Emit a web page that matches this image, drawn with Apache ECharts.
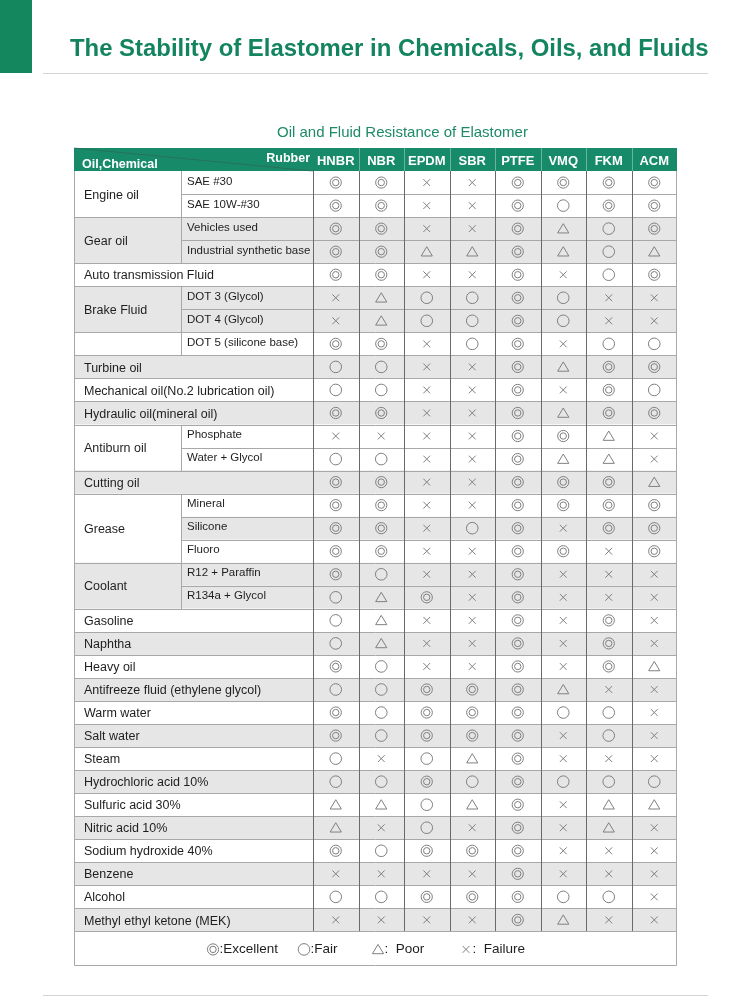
<!DOCTYPE html>
<html>
<head>
<meta charset="utf-8">
<script src="https://cdn.jsdelivr.net/npm/echarts@6/dist/echarts.min.js"></script>
<style>
  html, body { margin: 0; padding: 0; background: #fff; }
  #chart { width: 750px; height: 1001px; }
</style>
</head>
<body>
<div id="chart"></div>
<script>
// table data
const rubbers = ["HNBR", "NBR", "EPDM", "SBR", "PTFE", "VMQ", "FKM", "ACM"];

const groupNames = [
  "Engine oil", "Gear oil", "Auto transmission Fluid", "Brake Fluid", "",
  "Turbine oil", "Mechanical oil(No.2 lubrication oil)", "Hydraulic oil(mineral oil)",
  "Antiburn oil", "Cutting oil", "Grease", "Coolant", "Gasoline", "Naphtha", "Heavy oil",
  "Antifreeze fluid (ethylene glycol)", "Warm water", "Salt water", "Steam",
  "Hydrochloric acid 10%", "Sulfuric acid 30%", "Nitric acid 10%", "Sodium hydroxide 40%",
  "Benzene", "Alcohol", "Methyl ethyl ketone (MEK)"
];
const groupSpans = [2, 2, 1, 2, 1, 1, 1, 1, 2, 1, 3, 2, 1, 1, 1, 1, 1, 1, 1, 1, 1, 1, 1, 1, 1, 1];

const subLabels = [
  "SAE #30", "SAE 10W-#30", "Vehicles used", "Industrial synthetic base", "",
  "DOT 3 (Glycol)", "DOT 4 (Glycol)", "DOT 5 (silicone base)", "", "", "",
  "Phosphate", "Water + Glycol", "", "Mineral", "Silicone", "Fluoro",
  "R12 + Paraffin", "R134a + Glycol",
  "", "", "", "", "", "", "", "", "", "", "", "", "", ""
];

// E = Excellent, F = Fair, P = Poor, X = Failure (HNBR..ACM)
const ratings = [
  "EEXXEEEE", "EEXXEFEE", "EEXXEPFE", "EEPPEPFP", "EEXXEXFE",
  "XPFFEFXX", "XPFFEFXX", "EEXFEXFF", "FFXXEPEE", "FFXXEXEF",
  "EEXXEPEE", "XXXXEEPX", "FFXXEPPX", "EEXXEEEP", "EEXXEEEE",
  "EEXFEXEE", "EEXXEEXE", "EFXXEXXX", "FPEXEXXX", "FPXXEXEX",
  "FPXXEXEX", "EFXXEXEP", "FFEEEPXX", "EFEEEFFX", "EFEEEXFX",
  "FXFPEXXX", "FFEFEFFF", "PPFPEXPP", "PXFXEXPX", "EFEEEXXX",
  "XXXXEXXX", "FFEEEFFX", "XXXXEPXX"
];

const shadedRows = [0,0,1,1,0,1,1,0,1,0,1,0,0,1,0,1,0,1,1,0,1,0,1,0,1,0,1,0,1,0,1,0,1];

const legendCodes = ["E", "F", "P", "X"];
const legendNames = [":Excellent", ":Fair", ":  Poor", ":  Failure"];

// layout (table units = px from the table's left edge)
const X_SUB = 107, X_VAL = 239, COL_W = 45.5, X_END = 603;
const LEGEND_X = [139, 230, 304, 392];
const N = ratings.length;
const FONT = "Liberation Sans, Arial, Helvetica, sans-serif";
const SHADE = "#e6e6e6";
const MARK = "#808080";
const H_LINE = "#a8a8a8";
const V_LINE = "#6a6a6a";
const GREEN = "#178b69";

// which group each row belongs to
const rowGroup = [], groupStart = [];
groupSpans.forEach(function (s, g) {
  groupStart.push(rowGroup.length);
  for (let k = 0; k < s; k++) rowGroup.push(g);
});
function groupHasSub(g) {
  for (let r = groupStart[g]; r < groupStart[g] + groupSpans[g]; r++) if (subLabels[r]) return true;
  return false;
}

function crisp(v) { return Math.round(v) + 0.5; }
function hLine(api, x0, x1, y, color) {
  const a = api.coord([x0, y]), b = api.coord([x1, y]);
  return { type: "line", shape: { x1: Math.round(a[0]), y1: crisp(a[1]), x2: Math.round(b[0]), y2: crisp(a[1]) },
           style: { stroke: color, lineWidth: 1 } };
}
function vLine(api, x, y0, y1, color) {
  const a = api.coord([x, y0]), b = api.coord([x, y1]);
  return { type: "line", shape: { x1: crisp(a[0]), y1: Math.round(a[1]), x2: crisp(a[0]), y2: Math.round(b[1]) },
           style: { stroke: color, lineWidth: 1 } };
}
function rectEl(api, x0, y0, x1, y1, fill) {
  const a = api.coord([x0, y0]), b = api.coord([x1, y1]);
  return { type: "rect", shape: { x: a[0], y: a[1], width: b[0] - a[0], height: b[1] - a[1] }, style: { fill: fill } };
}
function textEl(api, x, y, text, size, weight, align, color) {
  const p = api.coord([x, y]);
  return { type: "text", style: { text: text, x: p[0], y: p[1], fontSize: size, fontFamily: FONT,
           fontWeight: weight || "normal", fill: color || "#1e1e1e",
           textAlign: align || "left", textVerticalAlign: "middle" } };
}
function mark(code, cx, cy) {
  const st = { stroke: MARK, fill: "none", lineWidth: 1 };
  if (code === "E") return [
    { type: "circle", shape: { cx: cx, cy: cy, r: 5.6 }, style: st },
    { type: "circle", shape: { cx: cx, cy: cy, r: 3.2 }, style: st }];
  if (code === "F") return [{ type: "circle", shape: { cx: cx, cy: cy, r: 5.8 }, style: st }];
  if (code === "P") return [{ type: "polygon", shape: { points: [[cx, cy - 5], [cx - 5.6, cy + 4.3], [cx + 5.6, cy + 4.3]] }, style: st }];
  return [
    { type: "line", shape: { x1: cx - 3.4, y1: cy - 3.4, x2: cx + 3.4, y2: cy + 3.4 }, style: st },
    { type: "line", shape: { x1: cx - 3.4, y1: cy + 3.4, x2: cx + 3.4, y2: cy - 3.4 }, style: st }];
}

const chart = echarts.init(document.getElementById("chart"));

const option = {
  animation: false,
  title: [
    { text: "The Stability of Elastomer in Chemicals, Oils, and Fluids", left: 70, top: 37, padding: 0,
      textStyle: { fontFamily: FONT, fontSize: 23.9, fontWeight: "bold", color: "#13845f" } },
    { text: "Oil and Fluid Resistance of Elastomer", left: 277, top: 125, padding: 0,
      textStyle: { fontFamily: FONT, fontSize: 15, fontWeight: "normal", color: "#1d8a68" } }
  ],
  graphic: [
    { type: "rect", left: 0, top: 0, shape: { width: 32, height: 73 }, style: { fill: "#14875f" } },
    { type: "rect", left: 43, top: 73, shape: { width: 665, height: 1 }, style: { fill: "#d4d4d4" } },
    { type: "rect", left: 43, top: 995, shape: { width: 665, height: 1 }, style: { fill: "#d4d4d4" } }
  ],
  grid: { left: 74, top: 148, width: 603, height: 818 },
  xAxis: { type: "value", min: 0, max: X_END, show: false },
  yAxis: { type: "value", min: -1, max: 34.5, inverse: true, show: false },
  series: [
    {
      // row backgrounds
      type: "custom", silent: true,
      data: ratings.map(function (s, r) { return [r]; }),
      renderItem: function (params, api) {
        const r = api.value(0);
        return rectEl(api, 0, r, X_END, r + 1, shadedRows[r] ? SHADE : "#fff");
      }
    },
    {
      // first-column labels (merged cells)
      type: "custom", silent: true,
      data: groupNames.map(function (n, g) { return [g]; }),
      renderItem: function (params, api) {
        const g = api.value(0), r0 = groupStart[g], span = groupSpans[g];
        const kids = [rectEl(api, 0, r0, groupHasSub(g) ? X_SUB : X_VAL, r0 + span, shadedRows[r0] ? SHADE : "#fff")];
        if (groupNames[g]) kids.push(textEl(api, 10, r0 + span / 2 + 0.05, groupNames[g], 12.5));
        return { type: "group", children: kids };
      }
    },
    {
      // second-column labels and rating marks
      type: "custom", silent: true,
      data: ratings.map(function (s, r) { return [r]; }),
      renderItem: function (params, api) {
        const r = api.value(0), kids = [];
        if (subLabels[r]) kids.push(textEl(api, X_SUB + 6, r + 0.45, subLabels[r], 11.5));
        for (let k = 0; k < rubbers.length; k++) {
          const p = api.coord([X_VAL + (k + 0.5) * COL_W, r + 0.5]);
          mark(ratings[r][k], p[0], p[1]).forEach(function (e) { kids.push(e); });
        }
        return { type: "group", children: kids };
      }
    },
    {
      // grid lines
      type: "custom", silent: true,
      data: ratings.map(function (s, r) { return [r]; }),
      renderItem: function (params, api) {
        const r = api.value(0), kids = [];
        const inner = r + 1 < N && rowGroup[r + 1] === rowGroup[r];
        kids.push(hLine(api, inner ? X_SUB : 0, X_END, r + 1, H_LINE));
        if (groupHasSub(rowGroup[r])) kids.push(vLine(api, X_SUB, r, r + 1, H_LINE));
        for (let k = 0; k < rubbers.length; k++) kids.push(vLine(api, X_VAL + k * COL_W, r, r + 1, V_LINE));
        kids.push(vLine(api, 0, r, r + 1, H_LINE));
        kids.push(vLine(api, X_END - 1, r, r + 1, H_LINE));
        return { type: "group", children: kids };
      }
    },
    {
      // header row
      type: "custom", silent: true,
      data: [""].concat(rubbers).map(function (n, i) { return [i]; }),
      renderItem: function (params, api) {
        const i = api.value(0), kids = [];
        if (i === 0) {
          kids.push(rectEl(api, 0, -1, X_END, 0, GREEN));
          const a = api.coord([0, -1]), b = api.coord([X_VAL, 0]);
          kids.push({ type: "line", shape: { x1: a[0], y1: a[1], x2: b[0], y2: b[1] },
                      style: { stroke: "rgba(50,95,80,0.6)", lineWidth: 1 } });
          kids.push(textEl(api, 8, -0.3, "Oil,Chemical", 12.5, "bold", "left", "#fff"));
          kids.push(textEl(api, X_VAL - 3, -0.55, "Rubber", 12.5, "bold", "right", "#fff"));
        } else {
          const k = i - 1;
          if (k > 0) kids.push(vLine(api, X_VAL + k * COL_W, -1, 0, "rgba(255,255,255,0.35)"));
          kids.push(textEl(api, X_VAL + (k + 0.5) * COL_W, -0.42, rubbers[k], 13, "bold", "center", "#fff"));
        }
        return { type: "group", children: kids };
      }
    },
    {
      // legend row
      type: "custom", silent: true,
      data: legendCodes.map(function (c, i) { return [i]; }),
      renderItem: function (params, api) {
        const i = api.value(0), kids = [];
        if (i === 0) {
          const a = api.coord([0, N]), b = api.coord([X_END, N + 1.5]);
          kids.push({ type: "rect", shape: { x: Math.round(a[0]) + 0.5, y: Math.round(a[1]) + 0.5,
                      width: Math.round(b[0] - a[0]) - 1, height: Math.round(b[1] - a[1]) - 1 },
                      style: { fill: "#fff", stroke: H_LINE, lineWidth: 1 } });
        }
        const p = api.coord([LEGEND_X[i], N + 0.78]);
        mark(legendCodes[i], p[0], p[1]).forEach(function (e) { kids.push(e); });
        kids.push(textEl(api, LEGEND_X[i] + 6.5, N + 0.78, legendNames[i], 13.5));
        return { type: "group", children: kids };
      }
    }
  ]
};

chart.setOption(option);
window.onresize = function () { chart.resize(); };
</script>
</body>
</html>
